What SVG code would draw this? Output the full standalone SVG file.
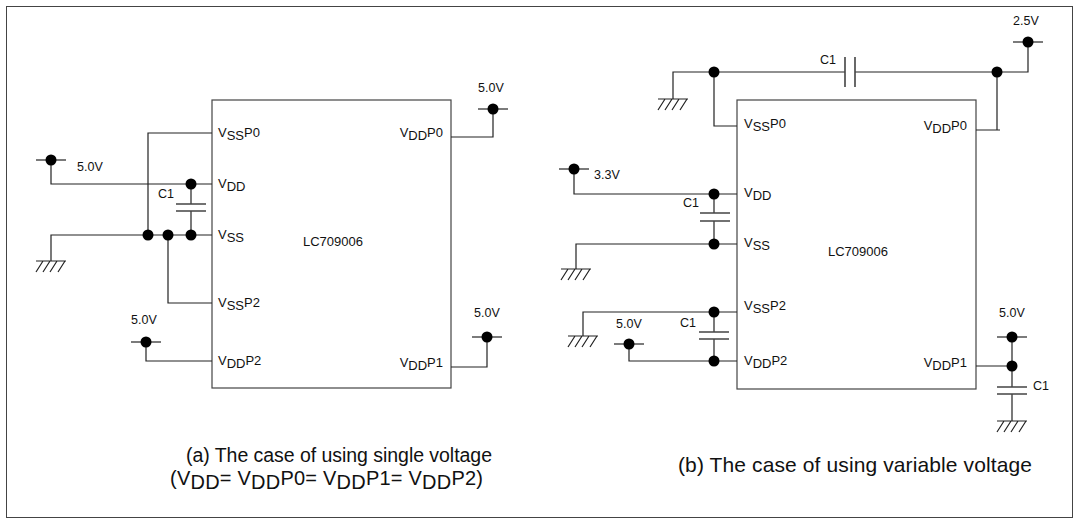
<svg xmlns="http://www.w3.org/2000/svg" xmlns:xlink="http://www.w3.org/1999/xlink" width="1079" height="525" viewBox="0 0 1079 525">
<style>
.w{stroke:#222;stroke-width:1.2;fill:none}
.chip{stroke:#444;stroke-width:1.2;fill:none}
.plate{stroke:#444;stroke-width:1.6;fill:none}
.dot{fill:#000}
text{font-family:"Liberation Sans",Arial,Helvetica,sans-serif;fill:#111}
.pin{font-size:13px}
.v{font-size:12.5px}
.lbl{font-size:13px}
.cap{font-size:19.5px}
.cap2{font-size:20px}
.capb{font-size:21px}
</style>
<defs>
<g id="sup"><line class="w" x1="-15" y1="0" x2="15" y2="0"/><circle class="dot" r="5.5"/></g>
<g id="gnd"><path class="w" d="M-15,0 H15 M-8,0 L-15,11 M-1,0 L-8,11 M6,0 L-1,11 M14,0 L7,11"/></g>
</defs>
<rect x="6.5" y="6.5" width="1066" height="511" fill="#fff" stroke="#444" stroke-width="1"/>

<g id="chipA">
<rect class="chip" x="212" y="100" width="239" height="288"/>
<text class="lbl" x="303" y="246">LC709006</text>
<text class="pin" x="218" y="137">V<tspan dy="3">SS</tspan><tspan dy="-3">P0</tspan></text>
<text class="pin" x="218" y="188">V<tspan dy="3">DD</tspan></text>
<text class="pin" x="218" y="239">V<tspan dy="3">SS</tspan></text>
<text class="pin" x="218" y="307">V<tspan dy="3">SS</tspan><tspan dy="-3">P2</tspan></text>
<text class="pin" x="218" y="365">V<tspan dy="3">DD</tspan><tspan dy="-3">P2</tspan></text>
<text class="pin" x="443" y="137" text-anchor="end">V<tspan dy="3">DD</tspan><tspan dy="-3">P0</tspan></text>
<text class="pin" x="443" y="367" text-anchor="end">V<tspan dy="3">DD</tspan><tspan dy="-3">P1</tspan></text>
</g>

<g id="chipB">
<rect class="chip" x="737" y="100" width="239" height="289"/>
<text class="lbl" x="828" y="256">LC709006</text>
<text class="pin" x="744" y="128">V<tspan dy="3">SS</tspan><tspan dy="-3">P0</tspan></text>
<text class="pin" x="744" y="197">V<tspan dy="3">DD</tspan></text>
<text class="pin" x="744" y="247">V<tspan dy="3">SS</tspan></text>
<text class="pin" x="744" y="310">V<tspan dy="3">SS</tspan><tspan dy="-3">P2</tspan></text>
<text class="pin" x="744" y="365">V<tspan dy="3">DD</tspan><tspan dy="-3">P2</tspan></text>
<text class="pin" x="967" y="130" text-anchor="end">V<tspan dy="3">DD</tspan><tspan dy="-3">P0</tspan></text>
<text class="pin" x="967" y="367" text-anchor="end">V<tspan dy="3">DD</tspan><tspan dy="-3">P1</tspan></text>
</g>

<g id="connectors">
<path class="w" d="M212,133 H148 V235"/>
<path class="w" d="M51,160 V184 H212"/>
<path class="w" d="M191,184 V204 M191,211 V235"/>
<path class="plate" d="M176,204 H206 M176,211 H206"/>
<path class="w" d="M51,261 V235 H212"/>
<path class="w" d="M168,235 V303 H212"/>
<path class="w" d="M146,342 V361 H212"/>
<path class="w" d="M493,109 V137 H451"/>
<path class="w" d="M487,337 V367 H451"/>
<path class="w" d="M673,99 V72 H845 M855,72 H1028 V42"/>
<path class="plate" d="M845,57 V87 M855,57 V87"/>
<path class="w" d="M714,72 V126 H737"/>
<path class="w" d="M997,72 V130 M976,130 H1000"/>
<path class="w" d="M574,169 V194 H737"/>
<path class="w" d="M714,194 V213 M714,221 V244"/>
<path class="plate" d="M700,213 H730 M700,221 H730"/>
<path class="w" d="M576,269 V244 H737"/>
<path class="w" d="M583,336 V312 H737"/>
<path class="w" d="M714,312 V332 M714,339 V361"/>
<path class="plate" d="M699,332 H729 M699,339 H729"/>
<path class="w" d="M629,344 V361 H737"/>
<path class="w" d="M976,366 H1012 M1012,337 V387 M1012,394 V421"/>
<path class="plate" d="M997,387 H1027 M997,394 H1027"/>
</g>

<g id="supplies">
<use xlink:href="#sup" x="51" y="160"/>
<use xlink:href="#sup" x="146" y="342"/>
<use xlink:href="#sup" x="493" y="109"/>
<use xlink:href="#sup" x="487" y="337"/>
<use xlink:href="#sup" x="1028" y="42"/>
<use xlink:href="#sup" x="574" y="169"/>
<use xlink:href="#sup" x="629" y="344"/>
<use xlink:href="#sup" x="1012" y="337"/>
</g>
<g id="grounds">
<use xlink:href="#gnd" x="51" y="261"/>
<use xlink:href="#gnd" x="673" y="99"/>
<use xlink:href="#gnd" x="576" y="269"/>
<use xlink:href="#gnd" x="583" y="336"/>
<use xlink:href="#gnd" x="1012" y="421"/>
</g>
<g id="junctions">
<circle class="dot" cx="148" cy="235" r="5.5"/>
<circle class="dot" cx="168" cy="235" r="5.5"/>
<circle class="dot" cx="191" cy="235" r="5.5"/>
<circle class="dot" cx="191" cy="184" r="5.5"/>
<circle class="dot" cx="714" cy="72" r="5.5"/>
<circle class="dot" cx="997" cy="72" r="5.5"/>
<circle class="dot" cx="714" cy="194" r="5.5"/>
<circle class="dot" cx="714" cy="244" r="5.5"/>
<circle class="dot" cx="714" cy="312" r="5.5"/>
<circle class="dot" cx="714" cy="361" r="5.5"/>
<circle class="dot" cx="1012" cy="366" r="5.5"/>
</g>
<g id="labels">
<text class="v" x="77" y="171">5.0V</text>
<text class="v" x="131" y="324">5.0V</text>
<text class="v" x="478" y="92">5.0V</text>
<text class="v" x="474" y="317">5.0V</text>
<text class="v" x="158" y="198">C1</text>
<text class="v" x="1013" y="25">2.5V</text>
<text class="v" x="820" y="64">C1</text>
<text class="v" x="594" y="179">3.3V</text>
<text class="v" x="683" y="207">C1</text>
<text class="v" x="680" y="327">C1</text>
<text class="v" x="616" y="328">5.0V</text>
<text class="v" x="999" y="317">5.0V</text>
<text class="v" x="1033" y="390">C1</text>
<text class="cap" x="186" y="462" textLength="306">(a) The case of using single voltage</text>
<text class="cap2" x="170" y="485" textLength="313">(V<tspan dy="4">DD</tspan><tspan dy="-4">= V</tspan><tspan dy="4">DD</tspan><tspan dy="-4">P0= V</tspan><tspan dy="4">DD</tspan><tspan dy="-4">P1= V</tspan><tspan dy="4">DD</tspan><tspan dy="-4">P2)</tspan></text>
<text class="capb" x="678" y="472" textLength="354">(b) The case of using variable voltage</text>
</g>
</svg>
